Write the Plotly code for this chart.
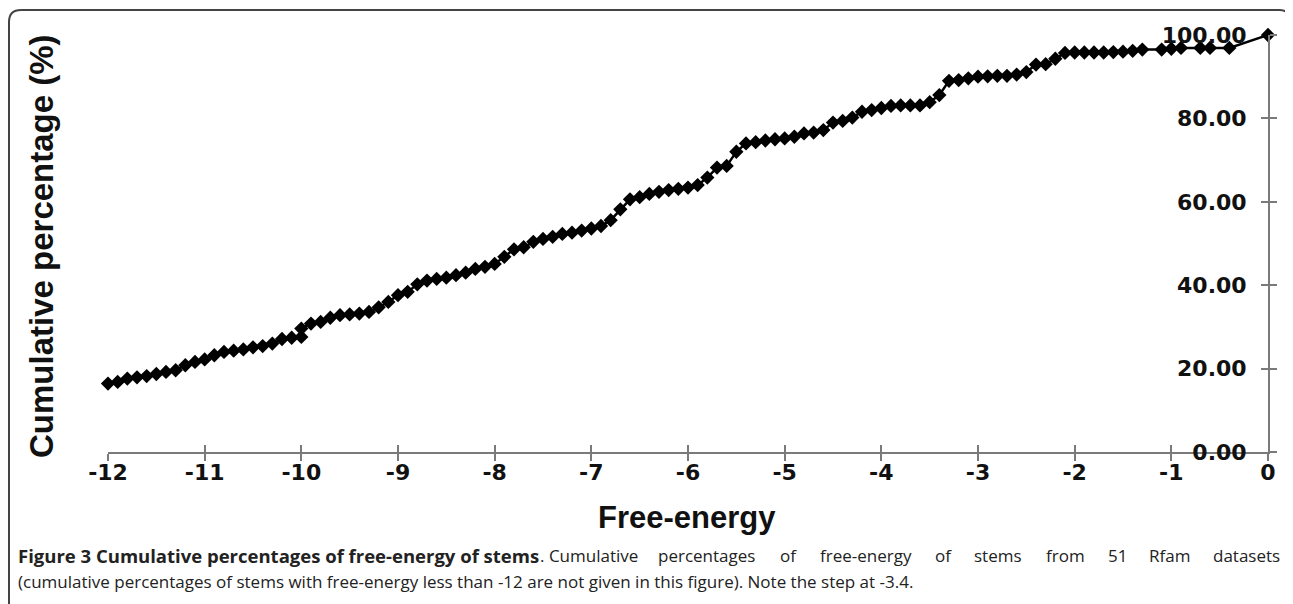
import plotly.graph_objects as go

# ---------------- data ----------------
free_energy = [-12.0, -11.9, -11.8, -11.7, -11.6, -11.5, -11.4, -11.3, -11.2, -11.1,
               -11.0, -10.9, -10.8, -10.7, -10.6, -10.5, -10.4, -10.3, -10.2, -10.1,
               -10.0, -10.0, -9.9, -9.8, -9.7, -9.6, -9.5, -9.4, -9.3, -9.2, -9.1,
               -9.0, -8.9, -8.8, -8.7, -8.6, -8.5, -8.4, -8.3, -8.2, -8.1,
               -8.0, -7.9, -7.8, -7.7, -7.6, -7.5, -7.4, -7.3, -7.2, -7.1,
               -7.0, -6.9, -6.8, -6.7, -6.6, -6.5, -6.4, -6.3, -6.2, -6.1,
               -6.0, -5.9, -5.8, -5.7, -5.6, -5.5, -5.4, -5.3, -5.2, -5.1,
               -5.0, -4.9, -4.8, -4.7, -4.6, -4.5, -4.4, -4.3, -4.2, -4.1,
               -4.0, -3.9, -3.8, -3.7, -3.6, -3.5, -3.4, -3.3, -3.2, -3.1,
               -3.0, -2.9, -2.8, -2.7, -2.6, -2.5, -2.4, -2.3, -2.2, -2.1,
               -2.0, -1.9, -1.8, -1.7, -1.6, -1.5, -1.4, -1.3, -1.1,
               -1.0, -0.9, -0.7, -0.6, -0.4, 0.0]

cumulative_pct = [16.4, 16.8, 17.6, 17.9, 18.2, 18.7, 19.2, 19.6, 20.8, 21.6,
                  22.2, 23.2, 24.0, 24.3, 24.6, 25.1, 25.4, 26.0, 27.1, 27.4,
                  27.6, 29.6, 30.8, 31.2, 32.2, 32.8, 33.0, 33.2, 33.6, 34.7, 36.0,
                  37.6, 38.4, 40.2, 41.1, 41.5, 41.8, 42.4, 43.0, 43.9, 44.4,
                  45.1, 46.8, 48.6, 49.1, 50.4, 51.1, 51.6, 52.3, 52.6, 53.1,
                  53.6, 54.2, 55.6, 58.2, 60.6, 61.1, 61.9, 62.4, 62.8, 63.1,
                  63.4, 64.0, 65.8, 68.2, 68.6, 72.0, 74.0, 74.3, 74.7, 75.0,
                  75.2, 75.6, 76.4, 76.6, 77.2, 79.0, 79.4, 80.2, 81.6, 82.0,
                  82.5, 83.0, 83.1, 83.1, 83.1, 83.9, 85.6, 89.0, 89.2, 89.6,
                  90.0, 90.1, 90.2, 90.2, 90.5, 91.1, 92.9, 93.0, 94.3, 95.7,
                  95.8, 95.8, 95.8, 95.8, 95.9, 96.0, 96.2, 96.5, 96.5,
                  96.7, 96.9, 96.9, 96.9, 96.9, 100.0]

x_tick_vals = [-12, -11, -10, -9, -8, -7, -6, -5, -4, -3, -2, -1, 0]
x_tick_text = ["-12", "-11", "-10", "-9", "-8", "-7", "-6", "-5", "-4", "-3", "-2", "-1", "0"]
y_tick_vals = [0, 20, 40, 60, 80, 100]

x_title = "Free-energy"
y_title = "Cumulative percentage (%)"
caption_bold = "Figure 3 Cumulative percentages of free-energy of stems"
caption_line1_words = [". Cumulative", "percentages", "of", "free-energy", "of",
                       "stems", "from", "51", "Rfam", "datasets"]
caption_line2 = ("(cumulative percentages of stems with free-energy less than -12 are not "
                 "given in this figure). Note the step at -3.4.")

# ---------------- layout geometry (screen pixels) ----------------
BODY = 8                      # default page margin of the html body
W, H = 1293 - BODY, 604 - BODY
PLOT_LEFT, PLOT_RIGHT, PLOT_TOP, PLOT_BOTTOM = 108, 1268, 35, 452
L = PLOT_LEFT - BODY
T = PLOT_TOP - BODY
R = (W + BODY) - PLOT_RIGHT
B = (H + BODY) - PLOT_BOTTOM
PW = PLOT_RIGHT - PLOT_LEFT
PH = PLOT_BOTTOM - PLOT_TOP


def px_x(sx):
    return (sx - PLOT_LEFT) / PW


def px_y(sy):
    return (PLOT_BOTTOM - sy) / PH


AXIS_GREY = "#7a7a7a"
tick_font = dict(family="DejaVu Sans", size=22, color="#111111", weight="bold")

fig = go.Figure()
fig.add_trace(go.Scatter(
    x=free_energy, y=cumulative_pct, mode="lines+markers",
    line=dict(color="#000000", width=2.5),
    marker=dict(symbol="diamond", size=11, color="#000000"),
    cliponaxis=False, showlegend=False, hoverinfo="x+y",
))
# empty trace to hold the overlay axes (crossing tick marks)
fig.add_trace(go.Scatter(x=[], y=[], xaxis="x2", yaxis="y2", showlegend=False))

# rounded border around the whole figure panel
bx0, bx1, by0, by1, r = 9, 1291, 10, 660, 12
path = (f"M {px_x(bx0)},{px_y(by1)} "
        f"L {px_x(bx0)},{px_y(by0 + r)} "
        f"Q {px_x(bx0)},{px_y(by0)} {px_x(bx0 + r)},{px_y(by0)} "
        f"L {px_x(bx1 - r)},{px_y(by0)} "
        f"Q {px_x(bx1)},{px_y(by0)} {px_x(bx1)},{px_y(by0 + r)} "
        f"L {px_x(bx1)},{px_y(by1)}")

cap_font = dict(family="Open Sans", size=17, color="#222222")
annotations = [
    dict(text=f"<b>{y_title}</b>", textangle=-90, xref="paper", yref="paper",
         x=px_x(42), y=px_y(246), xanchor="center", yanchor="middle", showarrow=False,
         font=dict(family="Liberation Sans", size=33, color="#111111")),
    dict(text=f"<b>{x_title}</b>", xref="paper", yref="paper",
         x=px_x(687), y=px_y(518), xanchor="center", yanchor="middle", showarrow=False,
         font=dict(family="Liberation Sans", size=31, color="#111111")),
    dict(text=f"<b>{caption_bold}</b>", xref="paper", yref="paper",
         x=px_x(16), y=px_y(555), xanchor="left", yanchor="middle", showarrow=False,
         font=dict(family="Open Sans", size=18.5, color="#222222")),
    dict(text=caption_line2, xref="paper", yref="paper",
         x=px_x(16), y=px_y(581), xanchor="left", yanchor="middle", showarrow=False,
         font=cap_font),
]
# justified first caption line: words spread between the bold part and the right edge
word_x = [538, 656, 778, 818, 933, 972, 1044, 1106, 1147, 1211]
for wtxt, wx in zip(caption_line1_words, word_x):
    annotations.append(dict(text=wtxt, xref="paper", yref="paper",
                            x=px_x(wx), y=px_y(555), xanchor="left", yanchor="middle",
                            showarrow=False, font=cap_font))

fig.update_layout(
    width=W, height=H,
    margin=dict(l=L, r=R, t=T, b=B, pad=0),
    paper_bgcolor="white", plot_bgcolor="white",
    shapes=[dict(type="path", xref="paper", yref="paper", path=path,
                 line=dict(color="#444444", width=2), layer="below")],
    xaxis=dict(range=[-12, 0], tickmode="array", tickvals=x_tick_vals, ticktext=x_tick_text,
               ticks="outside", ticklen=7, tickcolor=AXIS_GREY, tickwidth=1.5,
               showline=True, linecolor=AXIS_GREY, linewidth=1.5,
               ticklabelstandoff=-7,
               showgrid=False, zeroline=False, tickfont=tick_font, anchor="y"),
    xaxis2=dict(range=[-12, 0], overlaying="x", anchor="y", side="bottom",
                tickmode="array", tickvals=x_tick_vals, ticks="inside", ticklen=7,
                tickcolor=AXIS_GREY, tickwidth=1.5, showticklabels=False,
                showline=False, showgrid=False, zeroline=False),
    yaxis=dict(range=[0, 100], side="right", anchor="x", tickmode="array",
               tickvals=y_tick_vals, tickformat=".2f",
               ticks="outside", ticklen=7, tickcolor=AXIS_GREY, tickwidth=1.5,
               showline=True, linecolor=AXIS_GREY, linewidth=1.5,
               ticklabelposition="inside", ticklabeloverflow="allow",
               ticklabelstandoff=23,
               showgrid=False, zeroline=False, tickfont=tick_font),
    yaxis2=dict(range=[0, 100], overlaying="y", side="right", anchor="x2",
                tickmode="array", tickvals=y_tick_vals, ticks="inside", ticklen=7,
                tickcolor=AXIS_GREY, tickwidth=1.5, showticklabels=False,
                showline=False, showgrid=False, zeroline=False),
    annotations=annotations,
)

fig.write_html("out.html")
